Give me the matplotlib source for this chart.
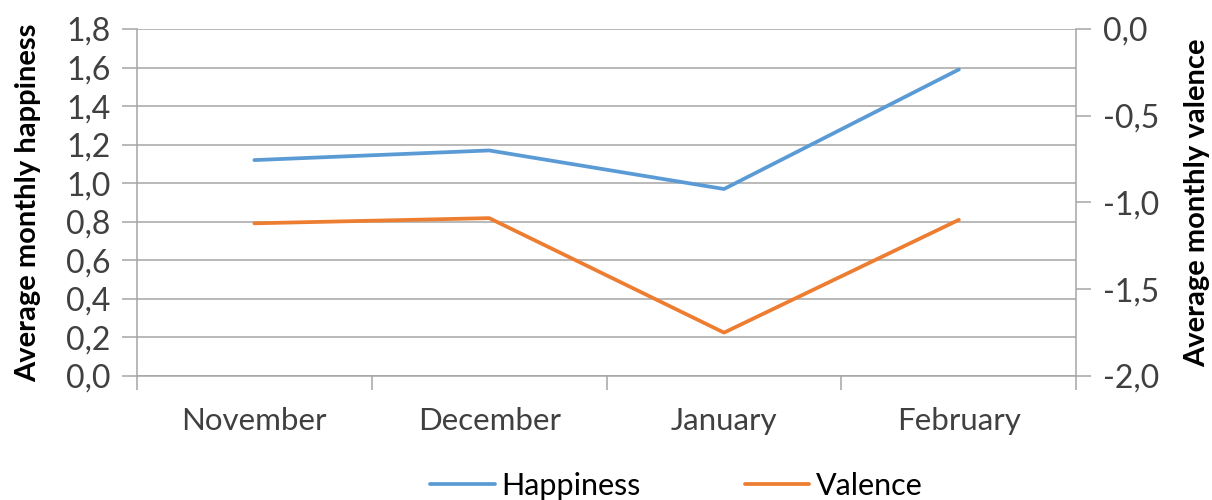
import matplotlib.pyplot as plt
from matplotlib.ticker import FixedLocator, FuncFormatter
import numpy as np

months = ["November", "December", "January", "February"]
happiness = [1.12, 1.17, 0.97, 1.59]
valence = [-1.12, -1.09, -1.75, -1.10]

left_ticks = [0.0, 0.2, 0.4, 0.6, 0.8, 1.0, 1.2, 1.4, 1.6, 1.8]
right_ticks = [-2.0, -1.5, -1.0, -0.5, 0.0]

BLUE = "#5B9BD5"
ORANGE = "#ED7D31"
GRID = "#a6a6a6"
TEXT = "#404040"

plt.rcParams["font.family"] = ["Lato", "DejaVu Sans"]


def comma(v, pos=None):
    return f"{v:.1f}".replace(".", ",")


fig = plt.figure(figsize=(12.12, 5.0), dpi=100)
ax = fig.add_axes([0.113, 0.248, 0.775, 0.694])
ax2 = ax.twinx()

x = np.arange(len(months))
l1, = ax.plot(x, happiness, color=BLUE, lw=2.7, solid_capstyle="round", label="Happiness")
l2, = ax2.plot(x, valence, color=ORANGE, lw=2.7, solid_capstyle="round", label="Valence")

ax.set_xlim(-0.5, len(months) - 0.5)
ax.set_ylim(0, 1.8)
ax2.set_ylim(-2.0, 0.0)

# left axis
ax.set_yticks(left_ticks)
ax.yaxis.set_major_formatter(FuncFormatter(comma))
ax.grid(axis="y", color=GRID, lw=1.1)
ax.set_axisbelow(True)

# right axis
ax2.set_yticks(right_ticks)
ax2.yaxis.set_major_formatter(FuncFormatter(comma))

# categories with ticks between them
ax.set_xticks(x)
ax.set_xticklabels(months)
ax.xaxis.set_minor_locator(FixedLocator(np.arange(-0.5, len(months), 1.0)))
ax.tick_params(axis="x", which="major", length=0, pad=22, labelsize=22.5, labelcolor=TEXT)
ax.tick_params(axis="x", which="minor", length=10, width=1.1, color=GRID, direction="out")
ax.tick_params(axis="y", length=11, width=1.1, color=GRID, labelsize=23, labelcolor=TEXT, pad=8)
ax2.tick_params(axis="y", length=11, width=1.1, color=GRID, labelsize=23, labelcolor=TEXT, pad=8)

for a in (ax, ax2):
    for s in a.spines.values():
        s.set_visible(False)
    a.spines["left"].set_visible(a is ax)
    a.spines["right"].set_visible(a is ax2)
ax.spines["left"].set_color(GRID)
ax.spines["left"].set_linewidth(1.1)
ax2.spines["right"].set_color(GRID)
ax2.spines["right"].set_linewidth(1.1)
ax.spines["bottom"].set_visible(True)
ax.spines["bottom"].set_color(GRID)
ax.spines["bottom"].set_linewidth(1.1)

ax.set_ylabel("Average monthly happiness", fontsize=21, fontweight="bold", color="black", labelpad=18)
ax2.set_ylabel("Average monthly valence", fontsize=21, fontweight="bold", color="black", labelpad=18)

fig.legend(handles=[l1, l2], loc="center", bbox_to_anchor=(0.558, 0.028), ncol=2,
           frameon=False, fontsize=22, handlelength=2.1, columnspacing=3.4,
           handletextpad=0.22, labelcolor="black")

fig.savefig("out.png", dpi=100)
